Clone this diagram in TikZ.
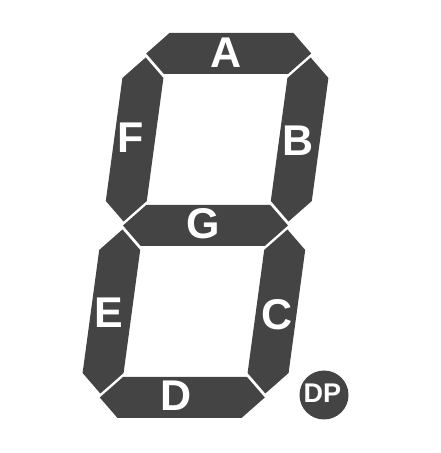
\documentclass[tikz,border=0pt]{standalone}
\usepackage{fontspec}
\setmainfont{Liberation Sans}
\definecolor{segdark}{HTML}{444444}
\tikzset{
  seg/.style={fill=segdark, draw=none},
  seglabel/.style={text=white, inner sep=0pt, font=\bfseries\fontsize{43}{43}\selectfont},
  dplabel/.style={text=white, inner sep=0pt, font=\bfseries\fontsize{27}{27}\selectfont}
}
\begin{document}
\begin{tikzpicture}[x=1pt,y=1pt]
\useasboundingbox (0,0) rectangle (441,453);
% segments, drawn upright and slanted
\begin{scope}[shift={(0,227.5)},xslant=0.135]
% horizontal: A, G, D
\fill[seg] (123,172) -- (143.5,192.5) -- (267.5,192.5) -- (288,172) -- (267.5,151.5) -- (143.5,151.5) -- cycle;
\fill[seg] (123,0) -- (143.5,20.5) -- (267.5,20.5) -- (288,0) -- (267.5,-20.5) -- (143.5,-20.5) -- cycle;
\fill[seg] (123,-172) -- (143.5,-151.5) -- (267.5,-151.5) -- (288,-172) -- (267.5,-192.5) -- (143.5,-192.5) -- cycle;
% vertical: F, B, E, C
\fill[seg] (123,168) -- (143.5,147.5) -- (143.5,24.5) -- (123,4) -- (102.5,24.5) -- (102.5,147.5) -- cycle;
\fill[seg] (288,168) -- (308.5,147.5) -- (308.5,24.5) -- (288,4) -- (267.5,24.5) -- (267.5,147.5) -- cycle;
\fill[seg] (123,-4) -- (143.5,-24.5) -- (143.5,-147.5) -- (123,-168) -- (102.5,-147.5) -- (102.5,-24.5) -- cycle;
\fill[seg] (288,-4) -- (308.5,-24.5) -- (308.5,-147.5) -- (288,-168) -- (267.5,-147.5) -- (267.5,-24.5) -- cycle;
\end{scope}
% decimal point
\fill[seg] (324,58) circle [radius=24.5];
% labels
\node[seglabel] (labA) at (226,400) {A};
\node[seglabel] (labB) at (298,312) {B};
\node[seglabel] (labC) at (277,138) {C};
\node[seglabel] (labD) at (176,57) {D};
\node[seglabel] (labE) at (109,140) {E};
\node[seglabel] (labF) at (131,315) {F};
\node[seglabel] (labG) at (203,229) {G};
\node[dplabel] (labDP) at (322.5,59.5) {DP};
\end{tikzpicture}
\end{document}
